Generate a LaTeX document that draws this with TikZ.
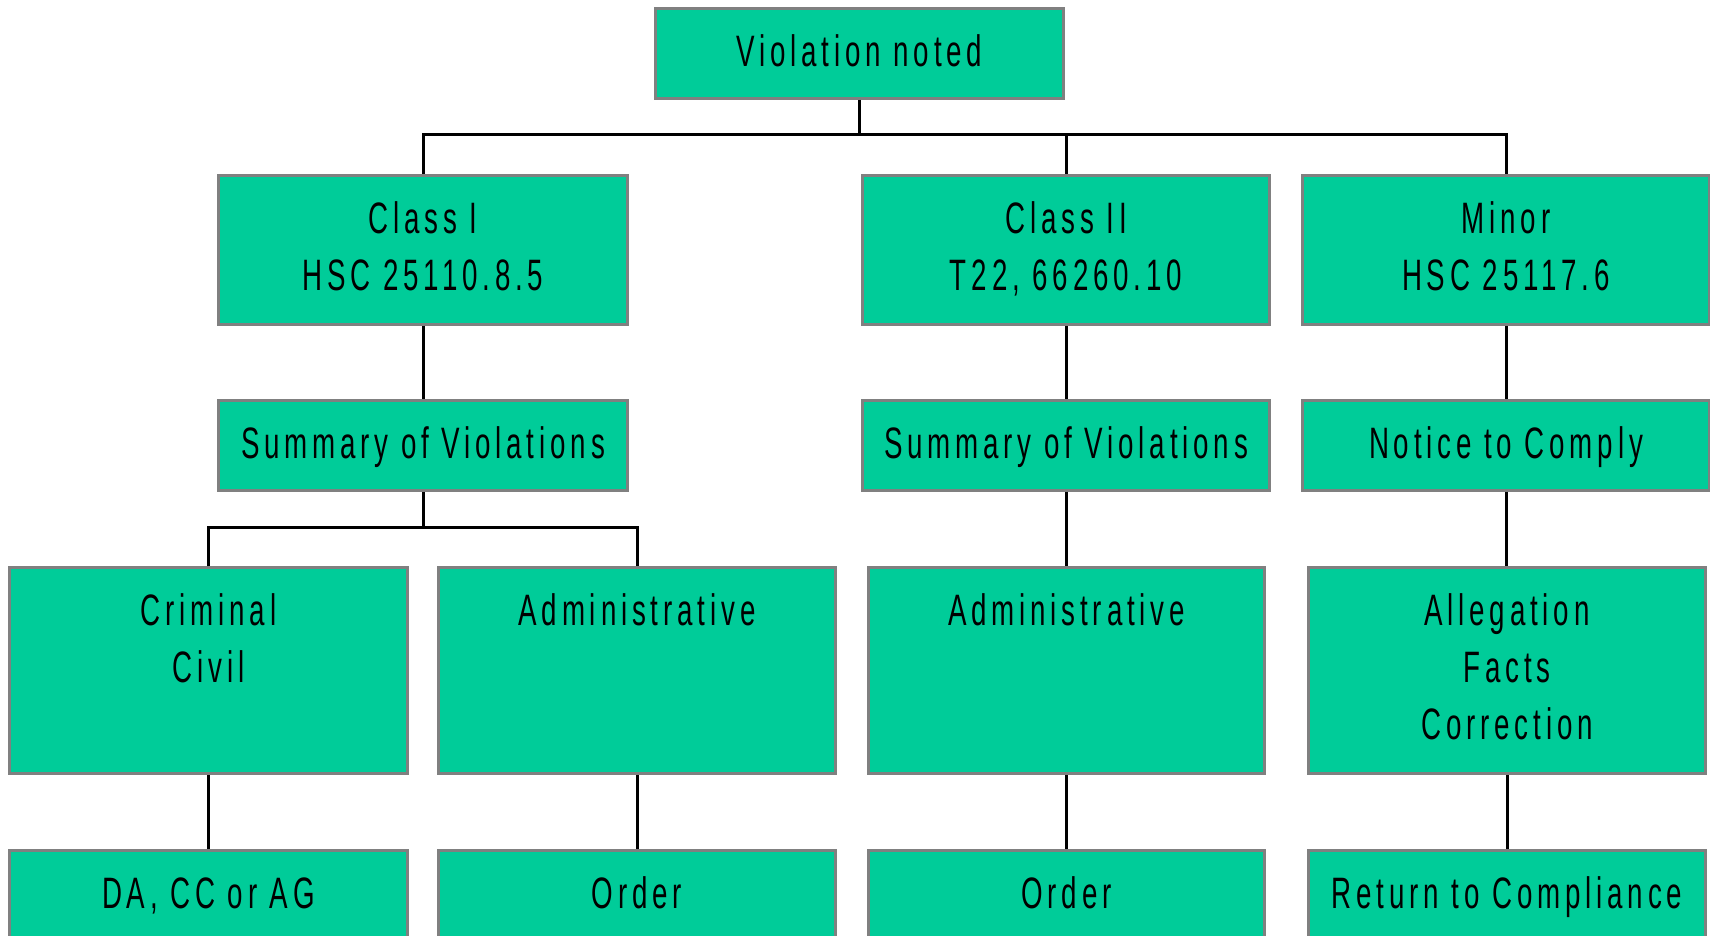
\documentclass[tikz,border=0pt]{standalone}
\usepackage{fontspec}
\newfontfamily\boxfont[FakeStretch=0.63,LetterSpace=11]{Liberation Sans}
\definecolor{boxgreen}{RGB}{0,204,153}
\definecolor{boxedge}{RGB}{128,128,128}
\newcommand\mybox[6]{%
  \node[box, minimum width={(#4-#2)*0.5pt}, minimum height={(#5-#3)*0.5pt}] (#1) at (#2,#3) {};
  \node[txt] (#1t) at ([yshift=-12.5pt]#1.north) {\rule{0pt}{17pt}#6};}
\begin{document}
\begin{tikzpicture}[x=0.5pt,y=-0.5pt,
  box/.style={rectangle, draw=boxedge, line width=1.5pt, fill=boxgreen, inner sep=0pt, anchor=north west},
  txt/.style={font=\boxfont\fontsize{22}{28.5}\selectfont, align=center, inner sep=0pt, anchor=north, text=black},
  conn/.style={line width=1.5pt, draw=black}]
\useasboundingbox (0,0) rectangle (1710,936);
\clip (0,0) rectangle (1710,936);
% row 0
\mybox{top}{654}{7}{1062}{97}{Violation noted}
% row 1
\mybox{cA}{217}{174}{626}{323}{Class I\\HSC 25110.8.5}
\mybox{cB}{861}{174}{1268}{323}{Class II\\T22, 66260.10}
\mybox{cC}{1301}{174}{1708}{323}{Minor\\HSC 25117.6}
% row 2
\mybox{sA}{217}{399}{626}{489}{Summary of Violations}
\mybox{sB}{861}{399}{1268}{489}{Summary of Violations}
\mybox{sC}{1301}{399}{1708}{489}{Notice to Comply}
% row 3
\mybox{dA}{8}{566}{406}{772}{Criminal\\Civil}
\mybox{dB}{437}{566}{834}{772}{Administrative}
\mybox{dC}{867}{566}{1263}{772}{Administrative}
\mybox{dD}{1307}{566}{1704}{772}{Allegation\\Facts\\Correction}
% row 4
\mybox{eA}{8}{849}{406}{1000}{DA, CC or AG}
\mybox{eB}{437}{849}{834}{1000}{Order}
\mybox{eC}{867}{849}{1263}{1000}{Order}
\mybox{eD}{1307}{849}{1704}{1000}{Return to Compliance}
% connectors
\coordinate (j1) at (858,135);
\coordinate (j2) at (421,527);
\draw[conn] (top.south) -- (top.south |- j1);
\draw[conn] (cA.north) -- (cA.north |- j1) -- (cC.north |- j1) -- (cC.north);
\draw[conn] (cB.north) -- (cB.north |- j1);
\draw[conn] (cA.south) -- (sA.north);
\draw[conn] (cB.south) -- (sB.north);
\draw[conn] (cC.south) -- (sC.north);
\draw[conn] (sA.south) -- (sA.south |- j2);
\draw[conn] (dA.north) -- (dA.north |- j2) -- (dB.north |- j2) -- (dB.north);
\draw[conn] (sB.south) -- (sB.south |- dC.north);
\draw[conn] (sC.south) -- (sC.south |- dD.north);
\draw[conn] (dA.south) -- (eA.north);
\draw[conn] (dB.south) -- (eB.north);
\draw[conn] (dC.south) -- (eC.north);
\draw[conn] (dD.south) -- (eD.north);
\end{tikzpicture}
\end{document}
